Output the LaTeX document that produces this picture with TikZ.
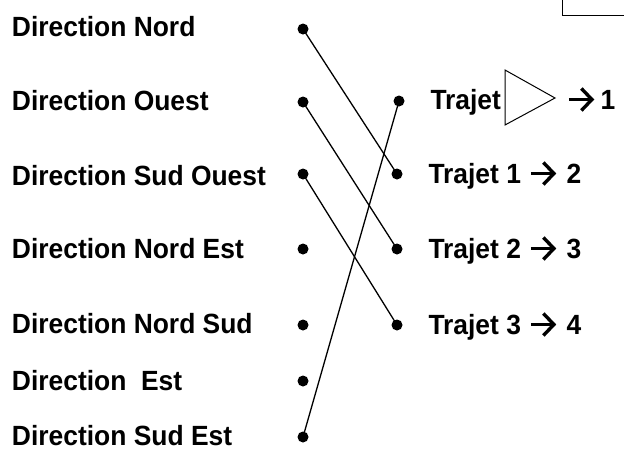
\documentclass[tikz,border=0pt]{standalone}
\usepackage{fontspec}
\setmainfont{Liberation Sans}[BoldFeatures={FakeStretch=0.95}]
\newcommand\warr{\tikz[baseline=0pt,x=1pt,y=1pt]{\draw[line width=3.8pt,line cap=butt] (0,9.5) -- (22,9.5); \draw[line width=3.4pt,line join=miter,miter limit=10,line cap=butt] (12.5,20.5) -- (23,9.5) -- (12.5,-1.5);}}
\tikzset{
  lab/.style={anchor=base west,inner sep=0pt,outer sep=0pt,text depth=0pt,font=\fontsize{27.8}{30}\selectfont\bfseries},
  dot/.style={circle,fill=black,inner sep=0pt,minimum size=11pt},
  link/.style={line width=1.3pt},
  thin/.style={line width=1pt}
}
\begin{document}
\begin{tikzpicture}[x=1pt,y=-1pt]
\useasboundingbox (0,0) rectangle (624,450);
% top-right partial box
\coordinate (b1) at (562,-2);
\coordinate (b2) at (562,15);
\coordinate (b3) at (626,15);
\draw[thin] (b1) -- (b2) -- (b3);
% left labels
\node[lab] (tN)  at (12,36)  {Direction Nord};
\node[lab] (tO)  at (12,110) {Direction Ouest};
\node[lab] (tSO) at (12,185) {Direction Sud Ouest};
\node[lab] (tNE) at (12,258) {Direction Nord Est};
\node[lab] (tNS) at (12,333) {Direction Nord Sud};
\node[lab] (tE)  at (12,390) {Direction\ \ Est};
\node[lab] (tSE) at (12,445.5) {Direction Sud Est};
% left dots
\node[dot] (lN)  at (303,29)  {};
\node[dot] (lO)  at (303,102) {};
\node[dot] (lSO) at (303,174) {};
\node[dot] (lNE) at (303,249) {};
\node[dot] (lNS) at (303,325) {};
\node[dot] (lE)  at (303,381) {};
\node[dot] (lSE) at (303,437) {};
% right dots
\node[dot] (r0) at (399,101) {};
\node[dot] (r1) at (397,174) {};
\node[dot] (r2) at (397,249) {};
\node[dot] (r3) at (397,325) {};
% right labels
\node[lab] (t0) at (430.5,109) {Trajet};
\draw[thin] (505,70) -- (555,98) -- (505,125) -- cycle;
\node[lab] (t0b) at (567,109) {\warr\kern7pt 1};
\node[lab] (t1) at (428.5,183) {Trajet 1\kern8pt\warr\kern11pt 2};
\node[lab] (t2) at (428.5,258) {Trajet 2\kern8pt\warr\kern11pt 3};
\node[lab] (t3) at (428.5,334) {Trajet 3\kern8pt\warr\kern11pt 4};
% connectors
\draw[link] (lN.center) -- (r1.center);
\draw[link] (lO.center) -- (r2.center);
\draw[link] (lSO.center) -- (r3.center);
\draw[link] (lSE.center) -- (r0.center);
\end{tikzpicture}
\end{document}
